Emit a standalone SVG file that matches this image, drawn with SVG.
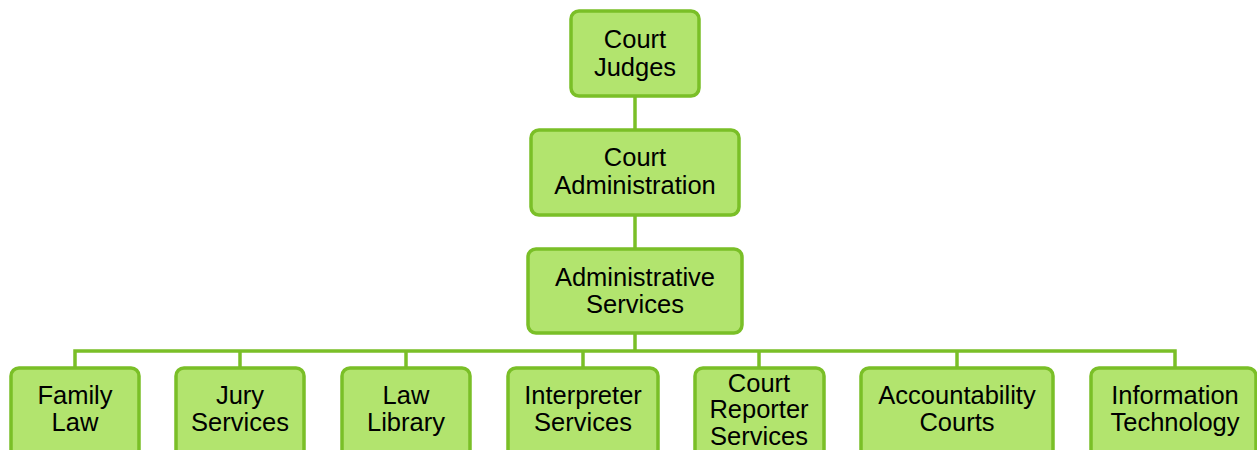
<svg xmlns="http://www.w3.org/2000/svg" width="1257" height="450" viewBox="0 0 1257 450">
<style>
.box{fill:#b2e46e;stroke:#7abf27;stroke-width:3.5}
.t{font-family:"Liberation Sans",Arial,sans-serif;font-size:25.5px;fill:#000;text-anchor:middle}
.c{stroke:#7abf27;stroke-width:3.5;fill:none}
</style>
<rect width="1257" height="450" fill="#fff"/>
<g id="connectors">
<line class="c" x1="635" y1="96" x2="635" y2="130"/>
<line class="c" x1="635" y1="215" x2="635" y2="249"/>
<line class="c" x1="635" y1="333" x2="635" y2="351"/>
<polyline class="c" points="75,368 75,351 1175,351 1175,368"/>
<line class="c" x1="240" y1="351" x2="240" y2="368"/>
<line class="c" x1="406" y1="351" x2="406" y2="368"/>
<line class="c" x1="583" y1="351" x2="583" y2="368"/>
<line class="c" x1="759" y1="351" x2="759" y2="368"/>
<line class="c" x1="957" y1="351" x2="957" y2="368"/>
</g>
<g id="court-judges">
<rect class="box" x="571" y="11" width="128" height="85" rx="8"/>
<text class="t" x="635" y="48">Court</text>
<text class="t" x="635" y="76">Judges</text>
</g>
<g id="court-administration">
<rect class="box" x="531" y="130" width="208" height="85" rx="8"/>
<text class="t" x="635" y="166">Court</text>
<text class="t" x="635" y="194">Administration</text>
</g>
<g id="administrative-services">
<rect class="box" x="528" y="249" width="214" height="84" rx="8"/>
<text class="t" x="635" y="286">Administrative</text>
<text class="t" x="635" y="313">Services</text>
</g>
<g id="family-law">
<rect class="box" x="11" y="368" width="128" height="90" rx="8"/>
<text class="t" x="75" y="404">Family</text>
<text class="t" x="75" y="431">Law</text>
</g>
<g id="jury-services">
<rect class="box" x="176" y="368" width="128" height="90" rx="8"/>
<text class="t" x="240" y="404">Jury</text>
<text class="t" x="240" y="431">Services</text>
</g>
<g id="law-library">
<rect class="box" x="342" y="368" width="128" height="90" rx="8"/>
<text class="t" x="406" y="404">Law</text>
<text class="t" x="406" y="431">Library</text>
</g>
<g id="interpreter-services">
<rect class="box" x="508" y="368" width="150" height="90" rx="8"/>
<text class="t" x="583" y="404">Interpreter</text>
<text class="t" x="583" y="431">Services</text>
</g>
<g id="court-reporter-services">
<rect class="box" x="695" y="368" width="129" height="90" rx="8"/>
<text class="t" x="759" y="392">Court</text>
<text class="t" x="759" y="418">Reporter</text>
<text class="t" x="759" y="445">Services</text>
</g>
<g id="accountability-courts">
<rect class="box" x="861" y="368" width="192" height="90" rx="8"/>
<text class="t" x="957" y="404">Accountability</text>
<text class="t" x="957" y="431">Courts</text>
</g>
<g id="information-technology">
<rect class="box" x="1091" y="368" width="165" height="90" rx="8"/>
<text class="t" x="1175" y="404">Information</text>
<text class="t" x="1175" y="431">Technology</text>
</g>
</svg>
